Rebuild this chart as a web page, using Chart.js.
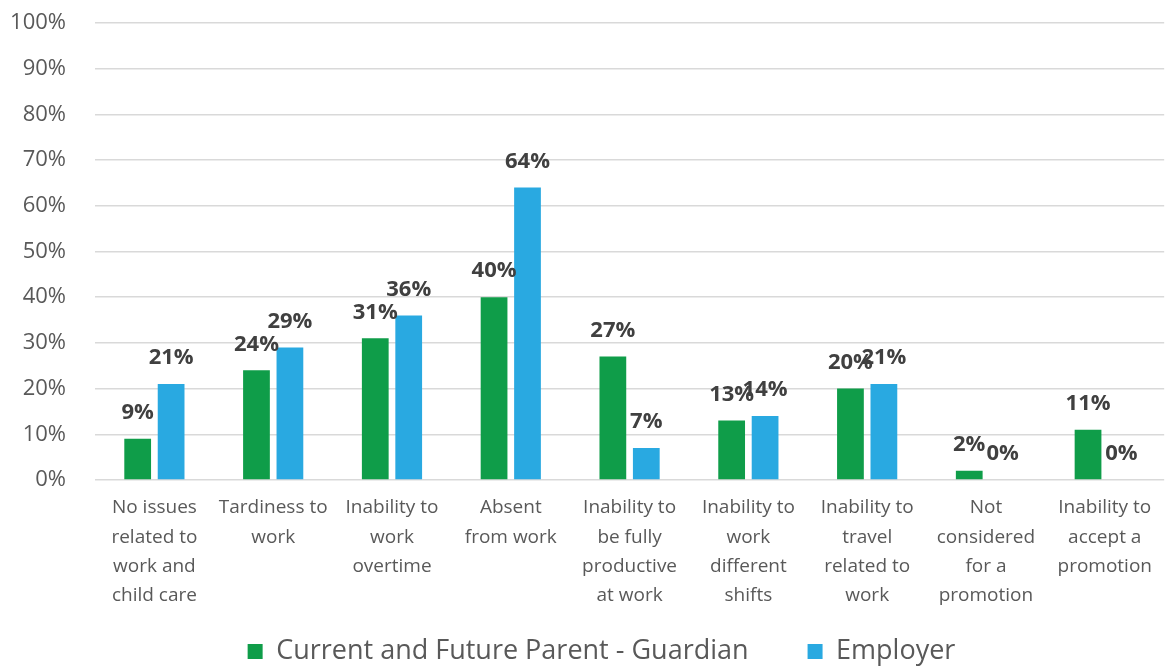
<!DOCTYPE html>
<html>
<head>
<meta charset="utf-8">
<script src="https://cdn.jsdelivr.net/npm/chart.js@4"></script>
<style>
    html, body { margin: 0; padding: 0; background: #ffffff; }
    #wrap { width: 1165px; height: 668px; }
</style>
</head>
<body>
<div id="wrap"><canvas id="barChart"></canvas></div>
<script>
const categories = [
    ["No issues", "related to", "work and", "child care"],
    ["Tardiness to", "work"],
    ["Inability to", "work", "overtime"],
    ["Absent", "from work"],
    ["Inability to", "be fully", "productive", "at work"],
    ["Inability to", "work", "different", "shifts"],
    ["Inability to", "travel", "related to", "work"],
    ["Not", "considered", "for a", "promotion"],
    ["Inability to", "accept a", "promotion"]
];
const parentValues = [9, 24, 31, 40, 27, 13, 20, 2, 11];
const employerValues = [21, 29, 36, 64, 7, 14, 21, 0, 0];
const yTicks = [0, 10, 20, 30, 40, 50, 60, 70, 80, 90, 100];

const FONT = "'Open Sans', sans-serif";

// value labels above each bar
const barLabels = {
    id: "barLabels",
    afterDatasetsDraw(chart) {
        const ctx = chart.ctx;
        ctx.save();
        ctx.font = "bold 22px " + FONT;
        ctx.fillStyle = "#404040";
        ctx.textAlign = "center";
        ctx.textBaseline = "bottom";
        chart.data.datasets.forEach((ds, i) => {
            chart.getDatasetMeta(i).data.forEach((bar, j) => {
                ctx.fillText(ds.data[j] + "%", bar.x, bar.y - 15);
            });
        });
        ctx.restore();
    }
};

const ctx = document.getElementById("barChart").getContext("2d");

const chart = new Chart(ctx, {
    type: "bar",
    data: {
        labels: categories,
        datasets: [{
            label: "Current and Future Parent - Guardian",
            data: parentValues,
            backgroundColor: "#0f9d49",
            borderWidth: 0,
            categoryPercentage: 0.563,
            barPercentage: 0.8
        }, {
            label: "Employer",
            data: employerValues,
            backgroundColor: "#29a9e1",
            borderWidth: 0,
            categoryPercentage: 0.563,
            barPercentage: 0.8
        }]
    },
    options: {
        responsive: true,
        maintainAspectRatio: false,
        animation: false,
        layout: {
            padding: { top: 23, right: 0, bottom: -7, left: 38 }
        },
        scales: {
            x: {
                grid: { display: false, drawTicks: false },
                border: { display: false },
                ticks: {
                    color: "#595959",
                    font: { family: FONT, size: 19, lineHeight: 1.55 },
                    padding: 13,
                    maxRotation: 0,
                    autoSkip: false
                },
                afterFit(scale) {
                    scale.height = 99;
                    // let the four-line labels run past the axis box
                    scale._computeLabelArea = () => undefined;
                }
            },
            y: {
                min: 0,
                max: 100,
                afterBuildTicks(scale) {
                    scale.ticks = yTicks.map(v => ({ value: v }));
                },
                grid: { color: "#d9d9d9", lineWidth: 1.5, drawTicks: false },
                border: { display: false },
                ticks: {
                    color: "#595959",
                    font: { family: FONT, size: 22 },
                    padding: 29,
                    callback: v => v + "%"
                },
                afterFit(scale) {
                    scale.width = 57;
                    scale.paddingTop = 0;
                    scale.paddingBottom = 0;
                    scale._computeLabelArea = () => undefined;
                }
            }
        },
        plugins: {
            legend: {
                position: "bottom",
                labels: {
                    color: "#595959",
                    font: { family: FONT, size: 27 },
                    boxWidth: 15,
                    boxHeight: 15,
                    padding: 59
                }
            },
            tooltip: { enabled: false }
        }
    },
    plugins: [barLabels]
});
</script>
</body>
</html>
